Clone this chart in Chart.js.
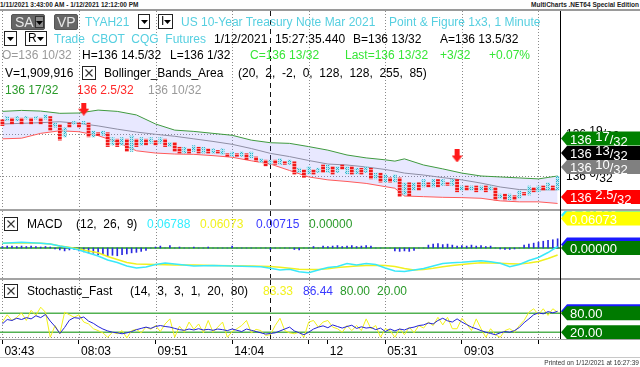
<!DOCTYPE html>
<html>
<head>
<meta charset="utf-8">
<title>TYAH21 Point &amp; Figure</title>
<script src="https://cdn.jsdelivr.net/npm/chart.js@4.4.1/dist/chart.umd.min.js"></script>
<style>
  body { margin: 0; background: #fff; }
  #wrap { position: relative; width: 640px; height: 367px; overflow: hidden; font-family: "Liberation Sans", Arial, sans-serif; }
  #wrap canvas { position: absolute; left: 0; }
  .t { position: absolute; white-space: pre; font-size: 12px; line-height: 14px; }
  .rule { position: absolute; }
  .btn { position: absolute; box-sizing: border-box; border: 1px solid #222; background: #fff; }
</style>
</head>
<body>
<div id="wrap">
  <canvas id="pricePane" width="640" height="198" style="top:11px"></canvas>
  <canvas id="macdPane" width="640" height="67" style="top:211px"></canvas>
  <canvas id="stochPane" width="640" height="78" style="top:280px"></canvas>
</div>
<script>
// P&F columns, price in 32nds above 136
const colType = 'OXOXOXOXOX' + 'OXOXOXOXOX' + 'OXOXOXOXOX' + 'OXOXOX' + 'OO' +
  'XOXOXOXOXO' + 'XOXOXOXOXO' + 'XOXOXOXOXO' + 'XOXOXOXOXO' + 'XOXOXOXOXO' +
  'XOXOXOXOXO' + 'XOXOXOXOXO' + 'XOXOXOXO' + 'X';
const colHigh = [23.5, 24.5, 24, 24.5, 24, 24.5, 24, 24.5, 24, 25,
  24.5, 22.5, 22, 21, 22.5, 23, 22.5, 23, 22.5, 20,
  19.5, 20, 19.5, 18, 17.5, 18, 17.5, 18.5, 17.5, 18,
  17.5, 18, 17, 18, 17.5, 16.5, 16.5, 15, 15, 14.5,
  15.5, 15, 15, 14.5, 14.5, 14, 14.5, 13, 13.5, 13,
  13.5, 13, 13.5, 12, 11.5, 11, 11, 11, 11.5, 10.5,
  11, 10.5, 8.5, 8, 9, 8, 8.5, 9.5, 9.5, 9,
  9, 9.5, 9, 9, 8.5, 8.5, 9, 8.5, 7, 7,
  6.5, 5.5, 6.5, 5.5, 4, 4, 4, 4, 5, 4,
  5, 5, 5, 4, 5, 5, 3, 3, 3, 3,
  3, 3, 3, 2.5, 0.5, 0.5, 0.5, 0, 1.5, 1,
  3, 2.5, 3, 3, 4, 3, 6];
const colLow = [21.5, 23, 22, 23, 22, 23.5, 22, 23.5, 22, 23.5,
  20, 21, 17, 18, 21, 22, 21, 22, 18, 18,
  18.5, 18.5, 15, 15.5, 15, 15.5, 13.5, 13.5, 15, 15.5,
  15.5, 16, 15.5, 16, 15, 15, 13.5, 13, 13, 13,
  13.5, 13, 13, 13, 13, 13, 12.5, 12, 12, 12,
  12, 11, 11.5, 10.5, 10, 9, 9.5, 9.5, 9.5, 9.5,
  9.5, 6.5, 7, 5.5, 6.5, 6.5, 7, 7, 7, 6.5,
  7, 8, 6.5, 6.5, 6.5, 6.5, 7, 5, 5, 4,
  4, 4, 4, -0.5, 0, -0.5, 1.5, 1.5, 2.5, 2.5,
  2.5, 2.5, 3, 3, 3, 1, 1.5, 1.5, 1.5, 1,
  1.5, 1, 1.5, -1.5, -1, -1.5, -1.5, -1.5, -1, 0,
  0, 1, 1, 1.5, 1.5, 1.5, 1.5];

// Bollinger bands, read at these columns
const bandCols = [0, 4, 8, 12, 16, 20, 24, 28, 32, 36, 40, 44, 48, 52, 56, 60, 64, 68, 72, 76, 80, 82, 84, 88, 92, 96, 100, 104, 108, 112, 116];
const bandUpper = [26.0, 26.3, 26.1, 25.4, 25.5, 26.4, 26.0, 24.9, 22.1, 20.2, 19.8, 19.2, 18.6, 17.1, 16.3, 16.1, 15.1, 14.0, 12.5, 11.6, 11.0, 10.6, 11.3, 9.4, 8.2, 6.9, 6.0, 5.7, 5.4, 5.1, 6.0];
const bandMid = [22.1, 22.3, 22.5, 22.8, 22.3, 21.5, 20.5, 19.6, 18.9, 18.3, 17.5, 16.7, 15.8, 14.5, 13.0, 12.0, 10.8, 9.7, 9.4, 8.8, 8.0, 7.5, 6.9, 6.3, 5.5, 4.8, 3.8, 2.6, 1.8, 1.7, 1.7];
const bandLower = [17.5, 17.7, 19.2, 20.0, 19.7, 18.5, 16.5, 13.8, 13.1, 12.8, 12.7, 12.3, 11.8, 10.7, 9.7, 7.7, 5.7, 4.8, 4.3, 3.7, 2.7, 2.2, -0.2, -0.4, -0.6, -0.7, -0.9, -1.7, -2.0, -2.0, -2.5];

// sell signal arrows
const signalCols = [17, 95];
const signalVals = [26.7, 12.2];

// MACD
const macdCols = [0, 4, 8, 10, 12, 14, 16, 18, 20, 22, 24, 26, 28, 30, 32, 34, 36, 40, 44, 48, 52,
  54, 56, 58, 60, 62, 64, 66, 68, 70, 72, 74, 76, 78, 80, 82, 84, 86, 88, 90, 92, 94, 96, 98, 100, 102, 104, 106, 108, 110, 112, 114, 116];
const macdLine = [0.0097, 0.0117, 0.0097, 0.0082, 0.0041, 0.0006, -0.0041, -0.0103, -0.0165, -0.0247, -0.0299, -0.0371, -0.0412, -0.0391, -0.0340, -0.0309, -0.0330, -0.0371, -0.0361, -0.0371, -0.0381,
  -0.0385, -0.0418, -0.0453, -0.0439, -0.0488, -0.0509, -0.0453, -0.0402, -0.0381, -0.0319, -0.0350, -0.0319, -0.0340, -0.0412, -0.0474, -0.0484, -0.0453, -0.0422, -0.0371, -0.0319, -0.0303, -0.0295, -0.0278, -0.0264, -0.0284, -0.0315, -0.0385, -0.0340, -0.0258, -0.0196, -0.0093, 0.0031];
const macdAvg = [0.0097, 0.0109, 0.0097, 0.0082, 0.0041, 0.0014, -0.0027, -0.0062, -0.0097, -0.0175, -0.0237, -0.0299, -0.0330, -0.0336, -0.0340, -0.0346, -0.0350, -0.0350, -0.0361, -0.0367, -0.0371,
  -0.0375, -0.0381, -0.0398, -0.0416, -0.0439, -0.0445, -0.0445, -0.0428, -0.0404, -0.0387, -0.0371, -0.0363, -0.0354, -0.0361, -0.0381, -0.0422, -0.0453, -0.0443, -0.0418, -0.0385, -0.0361, -0.0338, -0.0319, -0.0303, -0.0309, -0.0315, -0.0323, -0.0330, -0.0309, -0.0278, -0.0216, -0.0144];
const macdDiff = [0.003, 0.004, 0.004, 0.003, 0.004, 0.003, 0.004, 0.003, 0.002, 0.003, 0.002,
  -0.002, -0.004, -0.006, -0.004, -0.003,
  -0.006, -0.008, -0.010, -0.011, -0.014, -0.013, -0.016, -0.015, -0.016, -0.014, -0.012, -0.010, -0.009, -0.007, -0.005,
  0, 0.002, 0.004, 0, 0.005, 0, 0.002, 0, 0, 0.002,
  0, 0, 0.002, 0, 0, 0, 0, 0.004, 0, 0,
  0, 0, 0, 0, 0, -0.003, 0, 0, 0, 0,
  -0.003, -0.004, 0, 0, 0.003, 0,
  0.004, 0.003, 0.004, 0.005, 0.003, 0.004, 0.005, 0.003, 0.004, 0.005, 0.004,
  0, 0, 0, 0,
  -0.006, -0.007, -0.006, -0.007, -0.005,
  0, 0,
  0.006, 0.008, 0.009, 0.007, 0.008, 0.006,
  0.004, 0.005, 0.004, 0.006, 0.004, 0.005, 0.003, 0.004,
  0,
  -0.002, -0.003, -0.003, -0.002,
  0,
  0.006, 0.008, 0.010, 0.012, 0.014, 0.016, 0.017, 0.019];

// Stochastic fast
const stochK = [52, 75, 57, 67, 81, 57, 89, 73, 99, 83,
  4, 41, 15, 83, 75, 67, 75, 52, 46, 31,
  25, 18, 4, 20, 15, 25, 2, 25, 29, 18,
  36, 29, 41, 22, 46, 62, 4, 39, 20, 52,
  29, 46, 18, 57, 20, 36, 52, 4, 22, 31,
  41, 57, 18, 29, 25, 10, 12, 41, 64, 25,
  18, 15, 20, 4, 52, 57, 36, 52, 57, 36,
  31, 20, 41, 25, 41, 25, 62, 31, 41, 4,
  31, 25, 4, 31, 12, 36, 18, 41, 33, 52,
  41, 67, 43, 67, 31, 31, 64, 46, 25, 62,
  31, 4, 31, 12, 4, 25, 31, 20, 41, 57,
  83, 94, 75, 94, 73, 94, 83];
const stochD = [46, 60, 57, 64, 60, 66, 62, 72, 66, 76,
  55, 38, 16, 35, 58, 66, 64, 68, 55, 48,
  38, 30, 24, 20, 18, 15, 18, 22, 28, 32,
  36, 32, 38, 41, 38, 36, 32, 28, 26, 30,
  27, 31, 27, 29, 26, 30, 28, 25, 30, 26,
  22, 30, 26, 22, 18, 14, 16, 18, 24, 30,
  36, 24, 18, 12, 20, 30, 36, 40, 34, 43,
  38, 33, 38, 42, 32, 37, 33, 35, 28, 33,
  22, 30, 24, 30, 27, 33, 36, 41, 43, 49,
  46, 57, 64, 56, 52, 62, 52, 44, 36, 31,
  25, 20, 16, 12, 18, 22, 20, 25, 35, 50,
  62, 75, 81, 78, 85, 81, 86];

// axis
const gridCols = [0, 16, 32, 48, 64, 80, 96, 112];
const dayCol = 56;
const timeCols = [0, 16, 32, 48, 64, 68, 80, 96, 112];
const timeLabels = ['03:43', '08:03', '09:51', '14:04', '', '12', '05:31', '09:03', ''];
const priceTicks = [6, 19];

const FONT = '"Liberation Sans", Arial, sans-serif';
Chart.defaults.font.family = FONT;

const pts = (xs, ys) => xs.map((x, i) => ({ x: x, y: ys[i] }));
const seq = ys => ys.map((y, i) => ({ x: i, y: y }));
const frac32 = v => '136 ' + v + '/32';

// --- header / frame (plain html) ---
const wrap = document.getElementById('wrap');
function put(x, yc, text, color, css) {
  const d = document.createElement('div');
  d.className = 't';
  d.style.left = x + 'px';
  d.style.top = (yc - 7) + 'px';
  d.style.color = color || '#000';
  if (css) Object.assign(d.style, css);
  d.textContent = text;
  wrap.appendChild(d);
  return d;
}
function rule(x, y, w, h, color) {
  const d = document.createElement('div');
  d.className = 'rule';
  Object.assign(d.style, { left: x + 'px', top: y + 'px', width: w + 'px', height: h + 'px', background: color });
  wrap.appendChild(d);
}
function btn(x, y, w, h, html, css) {
  const d = document.createElement('div');
  d.className = 'btn';
  Object.assign(d.style, { left: x + 'px', top: y + 'px', width: w + 'px', height: h + 'px' });
  if (css) Object.assign(d.style, css);
  d.innerHTML = html;
  wrap.appendChild(d);
}
const tri = (l, t) => '<svg width="7" height="4" style="position:absolute;left:' + l + 'px;top:' + t + 'px"><polygon points="0,0 7,0 3.5,4" fill="#000"/></svg>';
const xMark = '<svg width="12" height="12" style="position:absolute;left:0;top:0"><path d="M2.5 2.5L9.5 9.5M9.5 2.5L2.5 9.5" stroke="#333" stroke-width="1.1"/></svg>';

const CYAN = '#56cfe0', LIME = '#36e636', DKGREEN = '#2a9a2a', GRAY = '#9a9a9a';

// top strip
put(0, 4, '1/11/2021 3:43:00 AM - 1/12/2021 12:12:00 PM', '#222', { fontSize: '6.5px', fontWeight: 'bold', lineHeight: '8px', top: '1px' });
put(0, 4, 'MultiCharts .NET64 Special Edition', '#222', { fontSize: '6.5px', fontWeight: 'bold', lineHeight: '8px', top: '1px', left: 'auto', right: '1px' });
rule(0, 9, 640, 2, '#9a9a9a');

// line 1
btn(11, 14, 34, 16, '<span style="position:absolute;left:3px;top:0;font-size:14px;line-height:14px;color:#e6e6e6">SA</span>' +
  '<div style="position:absolute;left:23px;top:1px;width:9px;height:12px;box-sizing:border-box;background:#8c8c8c;border:1px solid #333">' + tri(0, 4) + '</div>',
  { background: '#666', borderColor: '#555', borderRadius: '2px' });
btn(54, 14, 24, 16, '<span style="position:absolute;left:2px;top:0;font-size:14px;line-height:14px;color:#e6e6e6">VP</span>',
  { background: '#666', borderColor: '#555', borderRadius: '2px' });
put(85, 21.5, 'TYAH21', CYAN);
btn(138, 14, 12, 15, tri(2, 5));
btn(158, 14, 15, 15, '<span style="position:absolute;left:2px;top:0;font-size:12px;line-height:13px">I</span>' + tri(5, 5));
put(181, 21.5, 'US 10-Year Treasury Note Mar 2021', CYAN);
put(389, 21.5, 'Point & Figure 1x3, 1 Minute', CYAN);

// line 2
btn(4, 31, 13, 15, tri(2, 5));
btn(25, 31, 22, 15, '<span style="position:absolute;left:2px;top:0;font-size:12px;line-height:13px">R</span>' + tri(11, 5));
put(54, 38.5, 'Trade  CBOT  CQG  Futures', CYAN);
put(214, 38.5, '1/12/2021', '#000');
put(275, 38.5, '15:27:35.440', '#000');
put(353, 38.5, 'B=136 13/32', '#000');
put(440, 38.5, 'A=136 13.5/32', '#000');

// line 3
put(2, 55, 'O=136 10/32', GRAY);
put(82, 55, 'H=136 14.5/32', '#000');
put(170, 55, 'L=136 1/32', '#000');
put(250, 55, 'C=136 13/32', LIME);
put(345, 55, 'Last=136 13/32', LIME);
put(440, 55, '+3/32', LIME);
put(489, 55, '+0.07%', LIME);

// line 4
put(5, 72.5, 'V=1,909,916', '#000');
btn(82, 66, 14, 14, xMark);
put(104, 72.5, 'Bollinger_Bands_Area', '#000');
put(238, 72.5, '(20,  2,  -2,  0,  128,  128,  255,  85)', '#000');

// line 5
put(5, 89.5, '136 17/32', DKGREEN);
put(77, 89.5, '136 2.5/32', '#ff2a2a');
put(148, 89.5, '136 10/32', GRAY);

// MACD header
btn(4, 217, 14, 14, xMark);
put(27, 223.5, 'MACD', '#000');
put(76, 223.5, '(12,  26,  9)', '#000');
put(147, 223.5, '0.06788', '#33eeff');
put(200, 223.5, '0.06073', '#f2f21e');
put(256, 223.5, '0.00715', '#3a3aff');
put(309, 223.5, '0.00000', DKGREEN);

// Stochastic header
btn(4, 284, 14, 14, xMark);
put(27, 290.5, 'Stochastic_Fast', '#000');
put(130, 290.5, '(14,  3,  3,  1,  20,  80)', '#000');
put(263, 290.5, '83.33', '#f2f21e');
put(303, 290.5, '86.44', '#3a3aff');
put(340, 290.5, '80.00', DKGREEN);
put(377, 290.5, '20.00', DKGREEN);

// frame lines
rule(0, 209, 640, 2, '#a3a3a3');
rule(0, 278, 640, 2, '#a3a3a3');
rule(0, 339, 640, 1, '#a3a3a3');
rule(0, 357, 640, 1, '#c8c8c8');
rule(560, 11, 1, 328, '#000');
put(0, 362, 'Printed on 1/12/2021 at 16:27:39', '#333', { fontSize: '6.5px', lineHeight: '8px', top: '359px', left: 'auto', right: '1px' });

// --- drawing helpers for canvas ---
function drawFrac(ctx, text, x, base) {
  const m = /^(\d+) ([\d.]+)\/(\d+)$/.exec(text);
  if (!m) { ctx.fillText(text, x, base); return; }
  ctx.fillText(m[1] + ' ', x, base); x += ctx.measureText(m[1] + ' ').width;
  ctx.fillText(m[2], x, base - 3); x += ctx.measureText(m[2]).width;
  ctx.fillText('/', x, base); x += ctx.measureText('/').width;
  ctx.fillText(m[3], x, base + 2);
}
function drawTag(ctx, yc, text, bg, fg) {
  const top = yc - 7, bot = yc + 7;
  ctx.fillStyle = bg;
  ctx.beginPath();
  ctx.moveTo(561, yc); ctx.lineTo(567, top); ctx.lineTo(640, top);
  ctx.lineTo(640, bot); ctx.lineTo(567, bot); ctx.closePath();
  ctx.fill();
  ctx.fillStyle = fg;
  ctx.font = '13px ' + FONT;
  ctx.textAlign = 'left';
  ctx.textBaseline = 'alphabetic';
  drawFrac(ctx, text, 570, yc + 5);
}

const paneDecor = {
  id: 'paneDecor',
  beforeDatasetsDraw(chart, args, opts) {
    const { ctx, chartArea: a, scales: { x, y } } = chart;
    const seg = (x1, y1, x2, y2) => { ctx.beginPath(); ctx.moveTo(x1, y1); ctx.lineTo(x2, y2); ctx.stroke(); };
    ctx.save();
    ctx.lineWidth = 1;
    ctx.strokeStyle = '#8a8a8a';
    ctx.setLineDash([1, 2]);
    gridCols.forEach(c => {
      const px = Math.round(x.getPixelForValue(c)) + 0.5;
      seg(px, a.top, px, a.bottom);
    });
    (opts.hGrid || []).forEach(v => {
      const py = Math.round(y.getPixelForValue(v)) + 0.5;
      seg(a.left, py, a.right, py);
    });
    ctx.strokeStyle = '#111';
    ctx.setLineDash([5, 4]);
    const dx = Math.round(x.getPixelForValue(dayCol)) + 0.5;
    seg(dx, a.top, dx, a.bottom);
    ctx.setLineDash([]);
    (opts.levels || []).forEach(l => {
      ctx.strokeStyle = l.color;
      ctx.lineWidth = l.width;
      const py = y.getPixelForValue(l.value);
      seg(a.left, py, a.right, py);
    });
    ctx.restore();
  },
  afterDraw(chart, args, opts) {
    const { ctx, scales: { y } } = chart;
    ctx.save();
    if (opts.axisTicks) {
      ctx.fillStyle = '#000';
      ctx.font = '12px ' + FONT;
      opts.axisTicks.forEach(v => drawFrac(ctx, frac32(v), 566, y.getPixelForValue(v) + 4));
    }
    (opts.tags || []).forEach(t => {
      const yc = t.y !== undefined ? t.y : y.getPixelForValue(t.value);
      drawTag(ctx, yc, t.text, t.bg, t.fg || '#fff');
    });
    ctx.restore();
  }
};
Chart.register(paneDecor);

function paneOptions(yMin, yMax, decor) {
  return {
    responsive: false,
    animation: false,
    events: [],
    layout: { padding: { right: 80 }, autoPadding: false },
    plugins: { legend: { display: false }, tooltip: { enabled: false }, paneDecor: decor },
    scales: {
      x: { type: 'linear', min: -0.5, max: 116.5, display: false, offset: false },
      y: { min: yMin, max: yMax, display: false }
    }
  };
}

// patterns for X and O columns
const priceCtx = document.getElementById('pricePane').getContext('2d');
function makePattern(w, h, draw) {
  const c = document.createElement('canvas');
  c.width = w; c.height = h;
  draw(c.getContext('2d'));
  return priceCtx.createPattern(c, 'repeat');
}
const patX = makePattern(4, 4, g => {
  g.fillStyle = 'rgba(170,230,240,0.8)';
  g.fillRect(0, 0, 4, 4);
  g.fillStyle = '#2eb3cc';
  [[0, 0], [2, 0], [1, 1], [0, 2], [2, 2]].forEach(p => g.fillRect(p[0], p[1], 1, 1));
});
const patO = makePattern(1, 3, g => {
  g.fillStyle = '#f01818';
  g.fillRect(0, 0, 1, 2);
  g.fillStyle = '#ff8a8a';
  g.fillRect(0, 2, 1, 1);
});

const arrowImg = document.createElement('canvas');
arrowImg.width = 11; arrowImg.height = 13;
(function () {
  const g = arrowImg.getContext('2d');
  g.fillStyle = '#ff1a1a';
  g.fillRect(3, 0, 5, 6);
  g.beginPath(); g.moveTo(0, 6); g.lineTo(11, 6); g.lineTo(5.5, 13); g.closePath(); g.fill();
})();

// --- price pane ---
new Chart(priceCtx, {
  type: 'bar',
  data: {
    datasets: [
      { type: 'line', data: pts(bandCols, bandUpper), borderColor: '#3f9a3f', borderWidth: 1, pointRadius: 0,
        fill: 2, backgroundColor: 'rgba(128,128,255,0.18)', order: 3 },
      { type: 'line', data: pts(bandCols, bandMid), borderColor: '#8e8ea4', borderWidth: 1, pointRadius: 0, fill: false, order: 2 },
      { type: 'line', data: pts(bandCols, bandLower), borderColor: '#ff5a5a', borderWidth: 1, pointRadius: 0, fill: false, order: 2 },
      { type: 'bar', data: colHigh.map((h, i) => ({ x: i, y: [colLow[i], h] })),
        backgroundColor: colHigh.map((h, i) => colType[i] === 'X' ? patX : patO),
        borderWidth: 0, barPercentage: 0.8, categoryPercentage: 1, order: 1 },
      { type: 'line', data: pts(signalCols, signalVals), showLine: false, pointStyle: arrowImg, pointRadius: 5, order: 0 }
    ]
  },
  options: paneOptions(-4.22, 57.08, {
    hGrid: priceTicks,
    axisTicks: priceTicks,
    tags: [
      { y: 127.5, text: '136 17/32', bg: '#008000' },
      { y: 142, text: '136 13/32', bg: '#000000' },
      { y: 156, text: '136 10/32', bg: '#808080' },
      { y: 186, text: '136 2.5/32', bg: '#ff0000' }
    ]
  })
});

// --- MACD pane ---
new Chart(document.getElementById('macdPane'), {
  type: 'bar',
  data: {
    datasets: [
      { type: 'line', data: pts(macdCols, macdLine), borderColor: '#3ae8fa', borderWidth: 1.5, pointRadius: 0, order: 0 },
      { type: 'line', data: pts(macdCols, macdAvg), borderColor: '#f0f020', borderWidth: 1.5, pointRadius: 0, order: 1 },
      { type: 'bar', data: seq(macdDiff), backgroundColor: '#2a2ae0', barThickness: 1, order: 2 }
    ]
  },
  options: paneOptions(-0.0618, 0.0762, {
    levels: [{ value: 0, color: '#1f9a1f', width: 1.5 }],
    tags: [
      { value: 0.06788, text: '0.06788', bg: '#33eeff' },
      { value: 0.06073, text: '0.06073', bg: '#ffff00' },
      { value: 0.00715, text: '0.00715', bg: '#1a1aff' },
      { value: 0, text: '0.00000', bg: '#007a00' }
    ]
  })
});

// --- Stochastic pane ---
const stochOpts = paneOptions(-1.5, 184.8, {
  hGrid: [5],
  levels: [{ value: 80, color: '#52b152', width: 1.5 }, { value: 20, color: '#52b152', width: 1.5 }],
  tags: [
    { value: 83.33, text: '83.33', bg: '#ffff00' },
    { value: 86.44, text: '86.44', bg: '#1a1aff' },
    { value: 80, text: '80.00', bg: '#007a00' },
    { value: 20, text: '20.00', bg: '#007a00' }
  ]
});
stochOpts.scales.x = {
  type: 'linear', min: -0.5, max: 116.5, display: true, offset: false,
  afterFit: s => { s.height = 19; },
  afterBuildTicks: s => { s.ticks = timeCols.map(v => ({ value: v })); },
  grid: { drawOnChartArea: false, drawTicks: true, tickLength: 5, color: '#000', lineWidth: 1 },
  border: { display: false },
  ticks: { autoSkip: false, maxRotation: 0, align: 'start', labelOffset: 2, padding: 0, color: '#000',
    font: { size: 12 }, callback: (v, i) => timeLabels[i] }
};
new Chart(document.getElementById('stochPane'), {
  type: 'line',
  data: {
    datasets: [
      { data: seq(stochK), borderColor: '#f2f21a', borderWidth: 1, pointRadius: 0, order: 1 },
      { data: seq(stochD), borderColor: '#2222d8', borderWidth: 1, pointRadius: 0, order: 0 }
    ]
  },
  options: stochOpts
});
</script>
</body>
</html>
